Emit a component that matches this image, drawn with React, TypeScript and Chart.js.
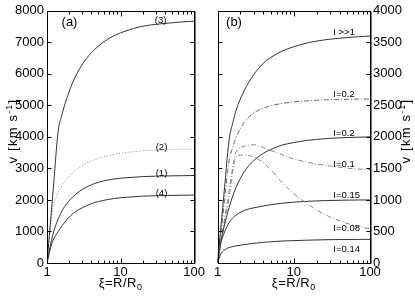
import { useEffect, useRef } from "react";
import { Chart, registerables } from "chart.js";

Chart.register(...registerables);

// ---- data ----
const XI = [1, 1.1, 1.2, 1.42, 1.6, 1.75, 2.25, 3, 4, 5, 7, 10, 15, 20, 30, 50, 70, 100];

// panel (a)
const A_CURVE3 = [0, 1140, 2180, 4190, 4710, 5040, 5740, 6290, 6670, 6880, 7130, 7300, 7440, 7510, 7570, 7620, 7650, 7670];
const A_CURVE2 = [0, 1000, 1700, 2230, 2450, 2590, 2870, 3090, 3235, 3320, 3410, 3480, 3530, 3557, 3580, 3600, 3610, 3615];
const A_CURVE1 = [0, 500, 900, 1400, 1650, 1800, 2100, 2330, 2480, 2560, 2640, 2690, 2720, 2740, 2755, 2765, 2770, 2775];
const A_CURVE4 = [0, 420, 700, 1000, 1180, 1300, 1570, 1750, 1880, 1950, 2020, 2070, 2100, 2120, 2135, 2145, 2150, 2155];

// panel (b)
const B_IBIG = [0, 530, 1015, 1950, 2240, 2420, 2740, 2990, 3170, 3260, 3360, 3430, 3490, 3520, 3550, 3575, 3588, 3600];
const B_I02_DD = [0, 440, 842, 1620, 1850, 1990, 2235, 2380, 2455, 2495, 2530, 2555, 2572, 2582, 2590, 2596, 2599, 2600];
const B_I02 = [0, 320, 540, 880, 1080, 1200, 1450, 1625, 1740, 1800, 1870, 1910, 1945, 1960, 1978, 1990, 1995, 2000];
const B_I01 = [0, 310, 600, 1150, 1550, 1760, 1850, 1875, 1830, 1785, 1720, 1650, 1600, 1570, 1540, 1505, 1490, 1480];
const B_I008 = [0, 290, 550, 1050, 1500, 1680, 1715, 1680, 1590, 1480, 1280, 1100, 940, 840, 730, 630, 580, 540];
const B_I015 = [0, 300, 450, 640, 720, 760, 835, 875, 905, 925, 948, 965, 978, 985, 992, 997, 999, 1000];
const B_I014 = [0, 140, 195, 245, 262, 272, 292, 312, 328, 337, 348, 355, 362, 366, 370, 373, 374, 375];

const X_TICKS = [1, 10, 100];
const A_Y_TICKS = [0, 1000, 2000, 3000, 4000, 5000, 6000, 7000, 8000];
const B_Y_TICKS = [0, 500, 1000, 1500, 2000, 2500, 3000, 3500, 4000];

const A_LABELS = ["(3)", "(2)", "(1)", "(4)"];
const A_LABEL_POS = [
  [35, 7600],
  [36, 3578],
  [36, 2757],
  [36, 2125],
];
const B_LABELS = ["I >>1", "I=0.2", "I=0.2", "I=0.1", "I=0.15", "I=0.08", "I=0.14"];
const B_LABEL_POS = [
  [33, 3620],
  [33, 2640],
  [33, 2008],
  [33, 1518],
  [33, 1028],
  [33, 506],
  [33, 174],
];

const FONT = '"Liberation Sans", Arial, Helvetica, sans-serif';

type Seg = { text: string; size: number; dy: number };

function drawRich(ctx: CanvasRenderingContext2D, segs: Seg[], x: number, y: number, rot: number, spacing: number) {
  ctx.save();
  ctx.translate(x, y);
  ctx.rotate(rot);
  ctx.textAlign = "left";
  ctx.textBaseline = "alphabetic";
  ctx.fillStyle = "#000";
  (ctx as any).letterSpacing = spacing + "px";
  const widths = segs.map((s) => {
    ctx.font = `${s.size}px ${FONT}`;
    return ctx.measureText(s.text).width;
  });
  const total = widths.reduce((a, b) => a + b, 0);
  let cx = -total / 2;
  segs.forEach((s, i) => {
    ctx.font = `${s.size}px ${FONT}`;
    ctx.fillText(s.text, cx, s.dy);
    cx += widths[i];
  });
  ctx.restore();
}

type Deco = {
  yTicks: number[];
  panel: string;
  panelPos: [number, number];
  labels: string[];
  labelPos: number[][];
  labelAlign: CanvasTextAlign;
  yTitleX: number;
};

function decoPlugin(d: Deco) {
  return {
    id: "deco",
    afterDraw(chart: any) {
      const { ctx, chartArea: a, scales } = chart;
      const xs = scales.x;
      const ys = scales.y;
      ctx.save();
      ctx.strokeStyle = "#000";
      ctx.lineWidth = 1;
      const L = Math.round(a.left) + 0.5;
      const R = Math.round(a.right) + 0.5;
      const T = Math.round(a.top) + 0.5;
      const B = Math.round(a.bottom) + 0.5;
      ctx.beginPath();
      for (const dec of [1, 10]) {
        for (let k = 1; k <= 9; k++) {
          const v = dec * k;
          const len = k === 1 ? 5 : 3;
          const px = Math.round(xs.getPixelForValue(v)) + 0.5;
          ctx.moveTo(px, B);
          ctx.lineTo(px, B - len);
          ctx.moveTo(px, T);
          ctx.lineTo(px, T + len);
        }
      }
      for (const v of d.yTicks) {
        const py = Math.round(ys.getPixelForValue(v)) + 0.5;
        ctx.moveTo(L, py);
        ctx.lineTo(L + 4, py);
        ctx.moveTo(R, py);
        ctx.lineTo(R - 4, py);
      }
      ctx.stroke();
      ctx.strokeRect(L, T, R - L, B - T);
      // slightly heavier grey right edge, as in the reference
      ctx.strokeStyle = "#777";
      ctx.beginPath();
      ctx.moveTo(R + 1, T);
      ctx.lineTo(R + 1, B);
      ctx.stroke();

      ctx.fillStyle = "#000";
      ctx.font = `13px ${FONT}`;
      ctx.textAlign = "center";
      ctx.textBaseline = "alphabetic";
      ctx.fillText(d.panel, d.panelPos[0], d.panelPos[1]);

      ctx.font = `9.5px ${FONT}`;
      ctx.textAlign = d.labelAlign;
      d.labels.forEach((t, i) => {
        const p = d.labelPos[i];
        ctx.fillText(t, xs.getPixelForValue(p[0]), ys.getPixelForValue(p[1]));
      });
      ctx.restore();

      drawRich(
        ctx,
        [
          { text: "\u03BE=R/R", size: 13, dy: 0 },
          { text: "0", size: 9, dy: 3 },
        ],
        (a.left + a.right) / 2,
        287,
        0,
        0.5
      );
      drawRich(
        ctx,
        [
          { text: "v [km s", size: 13, dy: 0 },
          { text: "-1", size: 9, dy: -5 },
          { text: "]", size: 13, dy: 0 },
        ],
        d.yTitleX,
        131,
        -Math.PI / 2,
        1.2
      );
    },
  };
}

function makeDs(data: number[], color: string, dash: number[], width = 1) {
  return {
    data: XI.map((x, i) => ({ x, y: data[i] })),
    borderColor: color,
    borderWidth: width,
    borderDash: dash,
    pointRadius: 0,
    fill: false,
    cubicInterpolationMode: "monotone" as const,
  };
}

function baseOptions(yMax: number, yTicks: number[], yPos: "left" | "right", yWidth: number, padding: any) {
  return {
    responsive: false,
    animation: false as const,
    events: [],
    layout: { padding },
    plugins: { legend: { display: false }, tooltip: { enabled: false } },
    scales: {
      x: {
        type: "logarithmic" as const,
        min: 1,
        max: 100,
        grid: { display: false, drawTicks: false },
        border: { display: false },
        afterBuildTicks: (s: any) => {
          s.ticks = X_TICKS.map((v) => ({ value: v }));
        },
        afterFit: (s: any) => {
          s.height = 34;
        },
        ticks: {
          autoSkip: false,
          maxRotation: 0,
          padding: 2,
          color: "#000",
          font: { family: FONT, size: 13 },
          callback: (v: any) => String(v),
        },
      },
      y: {
        type: "linear" as const,
        position: yPos,
        min: 0,
        max: yMax,
        grid: { display: false, drawTicks: false },
        border: { display: false },
        afterBuildTicks: (s: any) => {
          s.ticks = yTicks.map((v) => ({ value: v }));
        },
        afterFit: (s: any) => {
          s.width = yWidth;
        },
        ticks: {
          padding: 3,
          color: "#000",
          font: { family: FONT, size: 13 },
          callback: (v: any) => String(v),
        },
      },
    },
  };
}

export default function App() {
  const refA = useRef<HTMLCanvasElement>(null);
  const refB = useRef<HTMLCanvasElement>(null);

  useEffect(() => {
    const chartA = new Chart(refA.current!, {
      type: "line",
      data: {
        datasets: [
          makeDs(A_CURVE3, "#333", []),
          makeDs(A_CURVE2, "#888", [1, 2]),
          makeDs(A_CURVE1, "#333", []),
          makeDs(A_CURVE4, "#333", []),
        ],
      },
      options: baseOptions(8000, A_Y_TICKS, "left", 47, { left: 0, right: 11.5, top: 10, bottom: 0 }) as any,
      plugins: [
        decoPlugin({
          yTicks: A_Y_TICKS,
          panel: "(a)",
          panelPos: [69.5, 26],
          labels: A_LABELS,
          labelPos: A_LABEL_POS,
          labelAlign: "center",
          yTitleX: 17,
        }),
      ],
    });

    const chartB = new Chart(refB.current!, {
      type: "line",
      data: {
        datasets: [
          makeDs(B_IBIG, "#333", []),
          makeDs(B_I02_DD, "#666", [5, 2, 1, 2]),
          makeDs(B_I02, "#333", []),
          makeDs(B_I01, "#888", [5, 2, 1, 2]),
          makeDs(B_I008, "#888", [5, 2, 1, 2]),
          makeDs(B_I015, "#333", []),
          makeDs(B_I014, "#333", []),
        ],
      },
      options: baseOptions(4000, B_Y_TICKS, "right", 45, { left: 10.5, right: 0, top: 10, bottom: 0 }) as any,
      plugins: [
        decoPlugin({
          yTicks: B_Y_TICKS,
          panel: "(b)",
          panelPos: [27, 26],
          labels: B_LABELS,
          labelPos: B_LABEL_POS,
          labelAlign: "left",
          yTitleX: 203,
        }),
      ],
    });

    return () => {
      chartA.destroy();
      chartB.destroy();
    };
  }, []);

  return (
    <div style={{ position: "absolute", left: 0, top: 0, width: 415, height: 297, background: "#fff" }}>
      <canvas
        ref={refA}
        width={207}
        height={297}
        style={{ position: "absolute", left: 0, top: 0, width: 207, height: 297 }}
      />
      <canvas
        ref={refB}
        width={208}
        height={297}
        style={{ position: "absolute", left: 207, top: 0, width: 208, height: 297 }}
      />
    </div>
  );
}
